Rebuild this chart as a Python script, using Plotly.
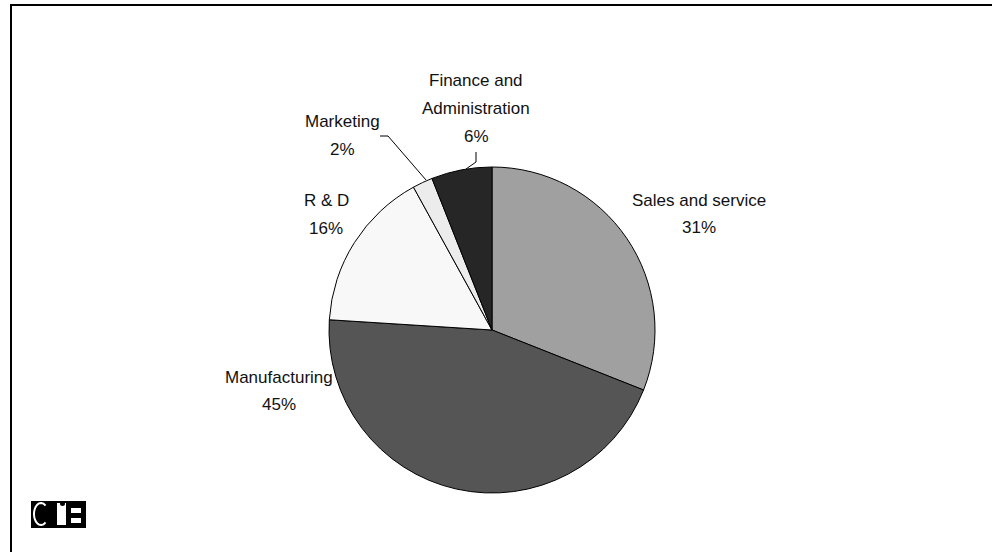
import math
import plotly.graph_objects as go

# Department shares, clockwise from 12 o'clock
departments = ["Sales and service", "Manufacturing", "R & D", "Marketing", "Finance and\nAdministration"]
shares = [31, 45, 16, 2, 6]
slice_colors = ["#a0a0a0", "#555555", "#f8f8f8", "#ececec", "#262626"]

W, H = 992, 552


def px(x):
    return x / W


def py(y):
    return 1 - y / H


# pie geometry in pixels
cx, cy, r = 492, 330, 163

fig = go.Figure(
    go.Pie(
        labels=[d.replace("\n", " ") for d in departments],
        values=shares,
        sort=False,
        direction="clockwise",
        rotation=0,
        textinfo="none",
        hoverinfo="label+percent",
        marker=dict(colors=slice_colors, line=dict(color="#000000", width=1)),
        domain=dict(x=[px(cx - r), px(cx + r)], y=[py(cy + r), py(cy - r)]),
        showlegend=False,
    )
)

# label placement: centre x, first line centre y, line step
label_pos = [(699, 200), (279, 377), (326, 201), (342, 122), (476, 81)]
line_step = 27.5
label_font = dict(family="Liberation Sans, Arial, sans-serif", size=17, color="#111111")

total = sum(shares)
annotations = []
for name, val, (lx, ly) in zip(departments, shares, label_pos):
    lines = name.split("\n") + [f"{round(100 * val / total)}%"]
    for i, line in enumerate(lines):
        annotations.append(
            dict(
                x=px(lx), y=py(ly + i * line_step), xref="paper", yref="paper",
                xanchor="center", yanchor="middle", showarrow=False,
                text=line, font=label_font,
            )
        )

shapes = []
# frame lines along top and left
shapes.append(dict(type="line", xref="paper", yref="paper", x0=px(10), x1=1, y0=py(5), y1=py(5), line=dict(color="black", width=2)))
shapes.append(dict(type="line", xref="paper", yref="paper", x0=px(11), x1=px(11), y0=py(5), y1=0, line=dict(color="black", width=2)))


def polyline(points, color="black", width=1):
    path = "M " + " L ".join(f"{px(x)},{py(y)}" for x, y in points)
    return dict(type="path", xref="paper", yref="paper", path=path, line=dict(color=color, width=width))


# leader lines
shapes.append(polyline([(380, 136), (388, 136), (426, 180)]))
shapes.append(polyline([(476, 152), (476, 162), (466, 169)]))


# logo block
def rect(x0, y0, x1, y1, color):
    return dict(type="rect", xref="paper", yref="paper", x0=px(x0), x1=px(x1), y0=py(y1), y1=py(y0),
                fillcolor=color, line=dict(width=0))


shapes.append(rect(31, 501, 86, 528, "black"))
# "C" drawn as an open elliptical arc
arc = [(41 + 7 * math.cos(math.radians(a)), 514 - 11 * math.sin(math.radians(a))) for a in range(50, 311, 10)]
shapes.append(polyline(arc, color="white", width=2))
shapes.append(rect(57, 503, 66, 525, "white"))
shapes.append(dict(type="circle", xref="paper", yref="paper", x0=px(60), x1=px(65), y0=py(506), y1=py(501),
                   fillcolor="black", line=dict(width=0)))
shapes.append(rect(71, 508, 81, 513, "white"))
shapes.append(rect(71, 518, 81, 523, "white"))

fig.update_layout(
    width=W, height=H,
    margin=dict(l=0, r=0, t=0, b=0),
    paper_bgcolor="white", plot_bgcolor="white",
    annotations=annotations, shapes=shapes,
)

fig.write_html("out.html")
